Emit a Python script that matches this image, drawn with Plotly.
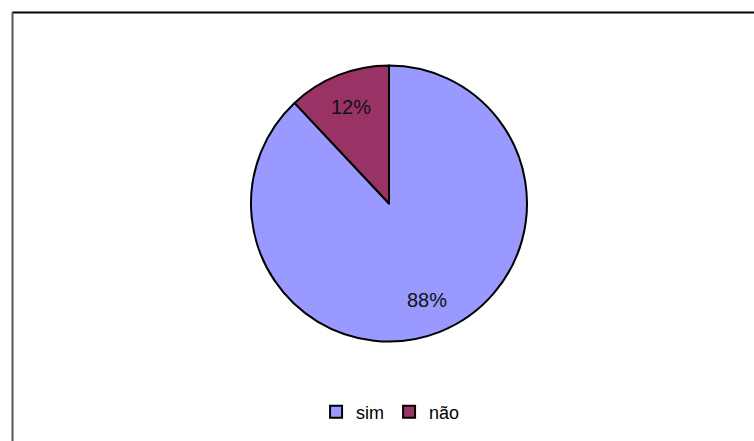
import math
import plotly.graph_objects as go

labels = ["sim", "não"]
values = [88, 12]
colors = ["#9999FF", "#993366"]

W, H = 754, 441
cx, cy, r = 389, 203.5, 138
label_r = 0.75  # label distance as fraction of radius

fig = go.Figure(go.Pie(
    labels=labels,
    values=values,
    sort=False,
    direction="clockwise",
    rotation=0,
    marker=dict(colors=colors, line=dict(color="black", width=2)),
    textinfo="none",
    domain=dict(x=[(cx - r) / W, (cx + r) / W], y=[(H - cy - r) / H, (H - cy + r) / H]),
    hoverinfo="label+percent",
))

# percentage labels placed at each slice's mid-angle (clockwise from 12 o'clock)
total = sum(values)
annotations = []
cum = 0
for v in values:
    mid = (cum + v / 2) / total * 2 * math.pi
    cum += v
    px = cx + label_r * r * math.sin(mid)
    py = cy - label_r * r * math.cos(mid)
    annotations.append(dict(
        x=px / W, y=1 - py / H, xref="paper", yref="paper",
        text=f"{round(v / total * 100)}%", showarrow=False,
        font=dict(family="Liberation Sans, Arial", size=20, color="#111111"),
        xanchor="center", yanchor="middle",
    ))

fig.update_layout(
    width=W, height=H,
    margin=dict(l=0, r=0, t=0, b=0),
    paper_bgcolor="white",
    plot_bgcolor="white",
    font=dict(family="Liberation Sans, Arial", size=17, color="black"),
    showlegend=True,
    legend=dict(orientation="h", x=0.518, xanchor="center", y=1 - 412 / H, yanchor="middle",
                font=dict(size=18), itemwidth=30, tracegroupgap=0),
    annotations=annotations,
    shapes=[
        dict(type="line", xref="paper", yref="paper", x0=12 / W, x1=1.0, y0=1 - 12.5 / H, y1=1 - 12.5 / H,
             line=dict(color="black", width=2)),
        dict(type="line", xref="paper", yref="paper", x0=12.5 / W, x1=12.5 / W, y0=0, y1=1 - 12 / H,
             line=dict(color="#555555", width=2)),
    ],
)

fig.write_html("out.html")
